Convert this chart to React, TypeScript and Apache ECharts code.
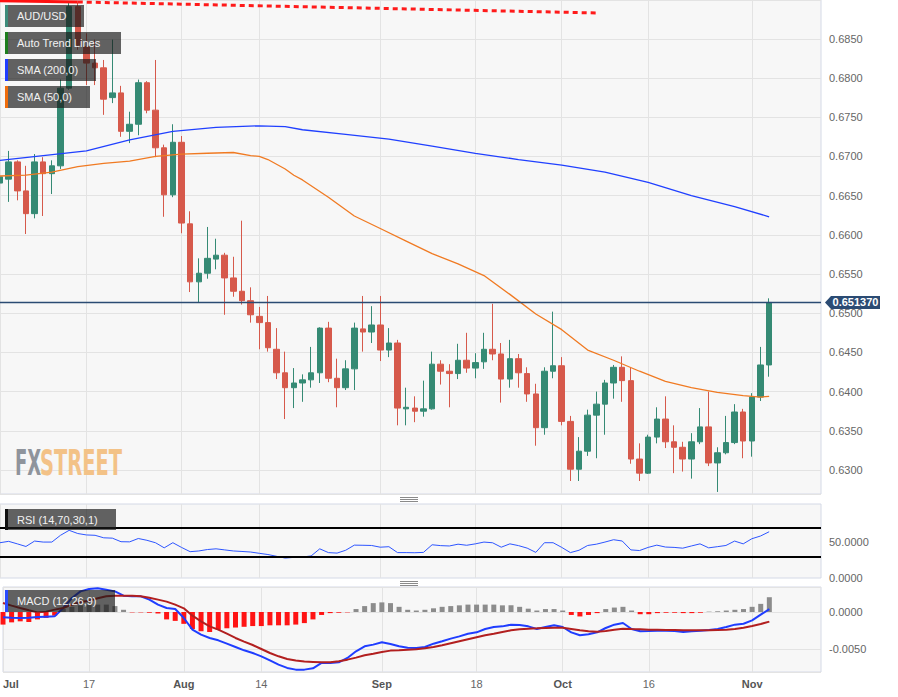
import React, { useEffect, useRef } from "react";
import * as echarts from "echarts";

const dates = [
  "Jul 3","Jul 4","Jul 5","Jul 6","Jul 7","Jul 10","Jul 11","Jul 12","Jul 13","Jul 14",
  "Jul 17","Jul 18","Jul 19","Jul 20","Jul 21","Jul 24","Jul 25","Jul 26","Jul 27","Jul 28","Jul 31",
  "Aug 1","Aug 2","Aug 3","Aug 4","Aug 7","Aug 8","Aug 9","Aug 10","Aug 11",
  "Aug 14","Aug 15","Aug 16","Aug 17","Aug 18","Aug 21","Aug 22","Aug 23","Aug 24","Aug 25",
  "Aug 28","Aug 29","Aug 30","Aug 31",
  "Sep 1","Sep 4","Sep 5","Sep 6","Sep 7","Sep 8","Sep 11","Sep 12","Sep 13","Sep 14","Sep 15",
  "Sep 18","Sep 19","Sep 20","Sep 21","Sep 22","Sep 25","Sep 26","Sep 27","Sep 28","Sep 29",
  "Oct 2","Oct 3","Oct 4","Oct 5","Oct 6","Oct 9","Oct 10","Oct 11","Oct 12","Oct 13",
  "Oct 16","Oct 17","Oct 18","Oct 19","Oct 20","Oct 23","Oct 24","Oct 25","Oct 26","Oct 27",
  "Oct 30","Oct 31","Nov 1","Nov 2","Nov 3",
  "Nov 6","Nov 7","Nov 8","Nov 9","Nov 10","Nov 13"
];

const tickDates = ["Jul 3","Jul 17","Aug 1","Aug 14","Sep 1","Sep 18","Oct 2","Oct 16","Nov 1"];
const tickLabels = ["Jul","17","Aug","14","Sep","18","Oct","16","Nov"];
const monthLabels = ["Jul","Aug","Sep","Oct","Nov"];

const opens = [
  0.6666,0.6671,0.6693,0.6656,0.6627,0.6693,0.6678,0.6688,0.6787,0.6891,
  0.6840,0.6819,0.6813,0.6775,0.6781,0.6732,0.6741,0.6794,0.6759,0.6711,
  0.6651,0.6718,0.6614,0.6540,0.6551,0.6569,0.6574,0.6545,0.6528,0.6516,
  0.6496,0.6488,0.6454,0.6424,0.6405,0.6411,0.6415,0.6424,0.6481,0.6417,
  0.6405,0.6429,0.6480,0.6476,0.6485,0.6453,0.6462,0.6378,0.6379,0.6375,
  0.6378,0.6435,0.6426,0.6423,0.6440,0.6430,0.6438,0.6454,0.6448,0.6416,
  0.6442,0.6423,0.6397,0.6354,0.6426,0.6433,0.6362,0.6301,0.6324,0.6370,
  0.6384,0.6411,0.6431,0.6414,0.6314,0.6296,0.6342,0.6365,0.6336,0.6329,
  0.6314,0.6336,0.6355,0.6309,0.6322,0.6335,0.6374,0.6337,0.6393,0.6434
];
const closes = [
  0.6674,0.6693,0.6656,0.6627,0.6693,0.6678,0.6688,0.6787,0.6891,0.6842,
  0.6819,0.6813,0.6773,0.6781,0.6732,0.6741,0.6794,0.6759,0.6711,0.6651,
  0.6718,0.6615,0.6540,0.6551,0.6570,0.6574,0.6545,0.6528,0.6516,0.6498,
  0.6488,0.6456,0.6424,0.6405,0.6411,0.6415,0.6424,0.6481,0.6417,0.6405,
  0.6429,0.6481,0.6476,0.6485,0.6453,0.6462,0.6379,0.6380,0.6375,0.6378,
  0.6435,0.6426,0.6423,0.6440,0.6430,0.6437,0.6454,0.6448,0.6416,0.6442,
  0.6424,0.6397,0.6354,0.6426,0.6433,0.6362,0.6301,0.6324,0.6370,0.6384,
  0.6411,0.6431,0.6414,0.6314,0.6296,0.6342,0.6365,0.6336,0.6329,0.6314,
  0.6336,0.6355,0.6309,0.6322,0.6335,0.6374,0.6337,0.6393,0.6434,0.65137
];
const lows = [
  0.6638,0.6642,0.6644,0.6601,0.6621,0.6624,0.6652,0.6684,0.6785,0.6836,
  0.6791,0.6791,0.6753,0.6768,0.6725,0.6717,0.6727,0.6755,0.6699,0.6623,
  0.6648,0.6602,0.6527,0.6514,0.6544,0.6556,0.6498,0.6521,0.6511,0.6488,
  0.6454,0.6451,0.6416,0.6365,0.6379,0.6387,0.6405,0.6411,0.6412,0.6380,
  0.6402,0.6402,0.6451,0.6462,0.6439,0.6444,0.6357,0.6357,0.6361,0.6368,
  0.6377,0.6409,0.6380,0.6416,0.6424,0.6417,0.6429,0.6440,0.6386,0.6405,
  0.6405,0.6387,0.6331,0.6345,0.6417,0.6357,0.6286,0.6286,0.6318,0.6315,
  0.6345,0.6391,0.6387,0.6308,0.6286,0.6295,0.6334,0.6328,0.6296,0.6298,
  0.6289,0.6333,0.6305,0.6272,0.6320,0.6333,0.6315,0.6317,0.6388,0.6419
];
const highs = [
  0.6683,0.6707,0.6695,0.6688,0.6703,0.6699,0.6695,0.6798,0.6897,0.6896,
  0.6857,0.6849,0.6823,0.6849,0.6790,0.6757,0.6798,0.6796,0.6823,0.6715,
  0.6741,0.6726,0.6630,0.6570,0.6610,0.6595,0.6577,0.6572,0.6618,0.6533,
  0.6508,0.6522,0.6481,0.6451,0.6430,0.6422,0.6457,0.6482,0.6489,0.6442,
  0.6440,0.6488,0.6522,0.6509,0.6522,0.6481,0.6466,0.6405,0.6394,0.6414,
  0.6451,0.6440,0.6435,0.6461,0.6475,0.6449,0.6475,0.6512,0.6462,0.6466,
  0.6448,0.6431,0.6410,0.6431,0.6502,0.6444,0.6369,0.6342,0.6377,0.6400,
  0.6415,0.6434,0.6445,0.6431,0.6334,0.6345,0.6380,0.6394,0.6357,0.6336,
  0.6347,0.6379,0.6400,0.6329,0.6369,0.6384,0.6378,0.6398,0.6457,0.6519
];

// [candle index, value]
const sma200 = [
  [0,0.6695],[5,0.6701],[10,0.6707],[15,0.6721],[20,0.6732],[25,0.6737],[30,0.6739],
  [33,0.6738],[35,0.6734],[40,0.6728],[45,0.6722],[50,0.6713],[55,0.6704],[60,0.6696],
  [65,0.6689],[70,0.6680],[75,0.6667],[80,0.6650],[85,0.6636],[89,0.6623]
];
const sma50 = [
  [0,0.6675],[3,0.6676],[6,0.6680],[9,0.6687],[12,0.6691],[15,0.6694],[18,0.6700],
  [21,0.6703],[24,0.6704],[27,0.6705],[29,0.6701],[30,0.6700],[31,0.6696],[32,0.6690],
  [33,0.6684],[34,0.6676],[35,0.6670],[38,0.6648],[41,0.6624],[44,0.6608],[47,0.6592],
  [50,0.6576],[53,0.6563],[56,0.6548],[59,0.6524],[62,0.6499],[65,0.6479],[68,0.6453],
  [71,0.6440],[74,0.6426],[77,0.6413],[80,0.6405],[83,0.6399],[86,0.6395],[88,0.6393],[89,0.6394]
];
const trendSolid = [[0,0.68985],[9,0.6897]];
const trendDashed = [[9,0.6897],[69,0.6883]];

const rsi = [
  49.6,51.5,48,44.3,51.9,50.5,50.5,60,67,62.5,
  60.5,60,56.5,56,51,50.8,55.5,53,49.5,42.4,
  49.6,43,37,38,40,41,39.5,38,37.3,36.5,
  34.7,33,30.5,28,29,29.5,31,41,35.7,35,
  39,46.2,46,45.7,43.3,44,35.7,35.7,35.5,36,
  46.7,45.5,45,47.5,46,48,50.5,49.5,43.3,48,
  45.5,42,36,49.6,49.6,43,35.7,39,45.7,47.5,
  50.5,53.8,52,39.5,38.6,43,46.2,43.5,43,41.9,
  45,48,42.4,44,45.7,51.9,48,55.2,59,65
];
const rsiLevels = [70, 30];

const macd = [
  -0.00072,-0.00077,-0.00081,-0.00077,-0.00068,-0.00063,-0.00059,0.00054,0.00189,0.00279,
  0.00311,0.0032,0.00302,0.00279,0.00221,0.00212,0.00212,0.00167,0.00099,0.00054,
  0.00041,-0.00081,-0.00239,-0.00306,-0.00351,-0.00383,-0.00428,-0.00473,-0.00518,-0.00554,
  -0.00599,-0.00653,-0.00711,-0.00756,-0.00779,-0.00779,-0.00761,-0.00689,-0.00689,-0.0068,
  -0.00621,-0.00531,-0.00464,-0.00441,-0.0041,-0.00432,-0.00464,-0.00482,-0.00486,-0.00473,
  -0.00428,-0.00396,-0.0036,-0.00329,-0.00293,-0.00275,-0.0023,-0.00203,-0.00194,-0.00171,
  -0.00176,-0.00194,-0.0023,-0.00203,-0.0018,-0.00203,-0.00275,-0.00315,-0.00302,-0.00275,
  -0.00216,-0.00171,-0.00149,-0.0023,-0.00261,-0.00257,-0.00252,-0.00252,-0.00257,-0.0027,
  -0.00261,-0.00252,-0.00243,-0.0023,-0.00203,-0.00171,-0.00158,-0.00113,-0.00036,0.0004
];
const signal = [
  0.00122,0.00086,0.00054,0.00023,-0.00005,0.00005,0.00032,0.00054,0.00099,0.00135,
  0.00153,0.00185,0.00212,0.00221,0.00221,0.00221,0.00212,0.00194,0.00167,0.0014,
  0.00099,0.0005,-0.0005,-0.00126,-0.00194,-0.00239,-0.00293,-0.00351,-0.004,-0.00446,
  -0.005,-0.00554,-0.00599,-0.00635,-0.00657,-0.0067,-0.00675,-0.0068,-0.0068,-0.00666,
  -0.00644,-0.00617,-0.00585,-0.00563,-0.0054,-0.00522,-0.00518,-0.00509,-0.00504,-0.00491,
  -0.00473,-0.0045,-0.00423,-0.00396,-0.00369,-0.00342,-0.00315,-0.00293,-0.0027,-0.00248,
  -0.00234,-0.00225,-0.00221,-0.00216,-0.00212,-0.00212,-0.0023,-0.00248,-0.00261,-0.00266,
  -0.00257,-0.00239,-0.00225,-0.0023,-0.00234,-0.00239,-0.00239,-0.00243,-0.00243,-0.00248,
  -0.00248,-0.00248,-0.00248,-0.00243,-0.00239,-0.0023,-0.00212,-0.00189,-0.00162,-0.0013
];
const hist = [
  -0.0017,-0.0014,-0.00126,-0.00135,-0.001,-0.0008,-0.0005,0.0004,0.0007,0.0009,
  0.001,0.001,0.001,0.0008,0.0003,-0.00005,-0.00005,-0.0001,-0.0002,-0.001,
  -0.0012,-0.0016,-0.0023,-0.0026,-0.0027,-0.0024,-0.0022,-0.0021,-0.002,-0.0019,
  -0.0019,-0.0018,-0.0018,-0.0018,-0.0017,-0.0015,-0.001,-0.0004,-0.00015,-0.0001,
  -0.00005,0.0004,0.0008,0.0012,0.0013,0.0012,0.0007,0.0003,0.0002,0.0003,
  0.0005,0.0007,0.0008,0.0009,0.001,0.001,0.001,0.001,0.0009,0.0009,
  0.0007,0.00045,0.0002,0.0004,0.0004,0.0002,-0.0004,-0.0006,-0.0004,-0.00015,
  0.0004,0.0006,0.0007,0.0002,-0.0003,-0.0003,-0.00015,-0.0001,-0.0001,-0.00015,
  -0.00015,-0.0001,0.00005,0.0001,0.0002,0.0003,0.0004,0.0007,0.0011,0.002
];

const lastPrice = 0.65137;
const priceRange = [0.62694, 0.68995];
const rsiRange = [0, 104];
const macdRange = [-0.00811, 0.00338];

const legendNames = ["AUD/USD", "Auto Trend Lines", "SMA (200,0)", "SMA (50,0)"];
const legendColors = ["#3d8b7a", "#1e7e1e", "#1f3dff", "#ef6c0c"];
const rsiName = "RSI (14,70,30,1)";
const macdName = "MACD (12,26,9)";

const FONT = '"Liberation Sans", Arial, sans-serif';

export default function App() {
  const ref = useRef<HTMLDivElement>(null);

  useEffect(() => {
    const chart = echarts.init(ref.current as HTMLDivElement, null, { renderer: "svg" });
    const tickIdx = tickDates.map((d) => dates.indexOf(d));
    const gridLine = { color: "#e3e3e3", width: 1 };
    const border = "#d4d9e6";
    const W = 821;

    const xAxis = (gridIndex: number, showLabel: boolean) => ({
      type: "category",
      gridIndex,
      data: dates,
      boundaryGap: false,
      axisLine: { show: false },
      axisTick: { show: false },
      axisLabel: showLabel
        ? {
            interval: (i: number) => tickIdx.includes(i),
            alignMinLabel: "left",
            margin: 6,
            fontFamily: FONT,
            formatter: (v: string) => {
              const k = tickDates.indexOf(v);
              if (k < 0) return "";
              const t = tickLabels[k];
              return monthLabels.includes(t) ? `{m|${t}}` : `{d|${t}}`;
            },
            rich: {
              m: { fontWeight: "bold", color: "#555", fontSize: 11, fontFamily: FONT },
              d: { color: "#666", fontSize: 11, fontFamily: FONT },
            },
          }
        : { show: false },
      splitLine: { show: true, interval: (i: number) => tickIdx.includes(i), lineStyle: gridLine },
    });

    const yLabel = {
      color: "#666",
      fontSize: 11,
      fontFamily: FONT,
      margin: 8,
      showMinLabel: false,
      showMaxLabel: false,
    };

    const candleData = opens.map((o, i) => [o, closes[i], lows[i], highs[i]]);
    const pairs = (arr: number[][]) => arr.map(([i, v]) => [dates[i], v]);

    const option: any = {
      animation: false,
      backgroundColor: "#ffffff",
      grid: [
        { left: 0, top: 0, width: W, height: 494, show: true, backgroundColor: "#f7f7f7", borderColor: border, borderWidth: 1 },
        { left: 0, top: 504, width: W, height: 74, show: true, backgroundColor: "#f7f7f7", borderColor: border, borderWidth: 1 },
        { left: 0, top: 587, width: W, height: 85, show: true, backgroundColor: "#f7f7f7", borderColor: border, borderWidth: 1 },
      ],
      xAxis: [xAxis(0, false), xAxis(1, false), xAxis(2, true)],
      yAxis: [
        {
          type: "value", gridIndex: 0, position: "right",
          min: priceRange[0], max: priceRange[1], minInterval: 0.005, maxInterval: 0.005, splitNumber: 12,
          axisLine: { show: false }, axisTick: { show: false },
          axisLabel: { ...yLabel, formatter: (v: number) => v.toFixed(4) },
          splitLine: { lineStyle: gridLine },
        },
        {
          type: "value", gridIndex: 1, position: "right",
          min: rsiRange[0], max: rsiRange[1], interval: 50,
          axisLine: { show: false }, axisTick: { show: false },
          axisLabel: { ...yLabel, showMinLabel: true, formatter: (v: number) => (v === 0 || v === 50 ? v.toFixed(4) : "") },
          splitLine: { show: false },
        },
        {
          type: "value", gridIndex: 2, position: "right",
          min: macdRange[0], max: macdRange[1], minInterval: 0.005, maxInterval: 0.005,
          axisLine: { show: false }, axisTick: { show: false },
          axisLabel: { ...yLabel, formatter: (v: number) => v.toFixed(4) },
          splitLine: { lineStyle: gridLine },
        },
      ],
      series: [
        {
          type: "candlestick", xAxisIndex: 0, yAxisIndex: 0, barWidth: 6,
          data: candleData,
          itemStyle: { color: "#358a74", color0: "#d6594b", borderColor: "#358a74", borderColor0: "#d6594b", borderWidth: 1 },
          markLine: {
            silent: true, symbol: "none", animation: false, precision: 6,
            label: { show: false },
            lineStyle: { color: "#2b4b73", width: 1.4, type: "solid" },
            data: [{ yAxis: lastPrice }],
          },
        },
        { type: "line", xAxisIndex: 0, yAxisIndex: 0, data: pairs(sma200), showSymbol: false, symbol: "none", lineStyle: { color: "#2040ff", width: 1.3 } },
        { type: "line", xAxisIndex: 0, yAxisIndex: 0, data: pairs(sma50), showSymbol: false, symbol: "none", lineStyle: { color: "#f07a22", width: 1.3 } },
        { type: "line", xAxisIndex: 0, yAxisIndex: 0, data: pairs(trendSolid), showSymbol: false, symbol: "none", lineStyle: { color: "#ff1010", width: 3 } },
        { type: "line", xAxisIndex: 0, yAxisIndex: 0, data: pairs(trendDashed), showSymbol: false, symbol: "none", lineStyle: { color: "#ff1a1a", width: 3, type: [5, 4] } },
        {
          type: "line", xAxisIndex: 1, yAxisIndex: 1, data: rsi, showSymbol: false, symbol: "none",
          lineStyle: { color: "#2d55ff", width: 1 },
          markLine: {
            silent: true, symbol: "none", animation: false, label: { show: false }, precision: 4,
            lineStyle: { color: "#000", width: 2.2, type: "solid" },
            data: rsiLevels.map((v) => ({ yAxis: v })),
          },
        },
        {
          type: "bar", xAxisIndex: 2, yAxisIndex: 2, barWidth: 5,
          data: hist.map((v) => ({ value: v, itemStyle: { color: v >= 0 ? "#8c8c8c" : "#ff1414" } })),
        },
        { type: "line", xAxisIndex: 2, yAxisIndex: 2, data: macd, showSymbol: false, symbol: "none", lineStyle: { color: "#1f3dff", width: 2 } },
        { type: "line", xAxisIndex: 2, yAxisIndex: 2, data: signal, showSymbol: false, symbol: "none", lineStyle: { color: "#b21f1f", width: 2 } },
      ],
    };

    chart.setOption(option);

    const box = (x: number, y: number, w: number, h: number, strip: string, text: string) => [
      { type: "rect", z: 100, shape: { x, y, width: w, height: h }, style: { fill: "rgba(25,25,25,0.68)" } },
      { type: "rect", z: 101, shape: { x, y, width: 3, height: h }, style: { fill: strip } },
      {
        type: "text", z: 102, x: x + 12, y: y + h / 2,
        style: { text, fill: "#f2f2f2", font: `11px ${FONT}`, verticalAlign: "middle", textVerticalAlign: "middle" },
      },
    ];
    const legendWidths = [79, 116, 91, 85];
    const graphics: any[] = [];
    legendNames.forEach((n, i) => graphics.push(...box(5, 5 + i * 27, legendWidths[i], 22, legendColors[i], n)));
    graphics.push(...box(5, 509, 111, 21, "#111111", rsiName));
    graphics.push(...box(5, 590, 110, 22, "#2a4cff", macdName));

    // watermark
    graphics.push({
      type: "text", z: 5, x: 15, y: 463, scaleX: 0.5,
      style: { text: "FX", fill: "#8f949c", font: 'bold 36px "DejaVu Sans"', verticalAlign: "middle", textVerticalAlign: "middle" },
    });
    graphics.push({
      type: "text", z: 5, x: 40, y: 463, scaleX: 0.54,
      style: { text: "STREET", fill: "#f3c287", font: 'bold 36px "DejaVu Sans"', verticalAlign: "middle", textVerticalAlign: "middle" },
    });

    // panel handles
    [497.5, 499.5, 501.5, 581.5, 583.5, 585.5].forEach((y) =>
      graphics.push({ type: "line", z: 50, shape: { x1: 400, y1: y, x2: 418, y2: y }, style: { stroke: "#8a8a8a", lineWidth: 1 } })
    );

    // price tag
    const py = chart.convertToPixel({ yAxisIndex: 0 } as any, lastPrice) as unknown as number;
    graphics.push({
      type: "polygon", z: 100,
      shape: { points: [[825, py], [831, py - 6.5], [880, py - 6.5], [880, py + 6.5], [831, py + 6.5]] },
      style: { fill: "#2b4b73" },
    });
    graphics.push({
      type: "text", z: 101, x: 855.5, y: py,
      style: {
        text: lastPrice.toFixed(6), fill: "#ffffff", font: `bold 11px ${FONT}`,
        align: "center", textAlign: "center", verticalAlign: "middle", textVerticalAlign: "middle",
      },
    });

    chart.setOption({ graphic: graphics });

    return () => chart.dispose();
  }, []);

  return (
    <div
      ref={ref}
      style={{ position: "fixed", left: 0, top: 0, width: 898, height: 697, background: "#fff" }}
    />
  );
}
